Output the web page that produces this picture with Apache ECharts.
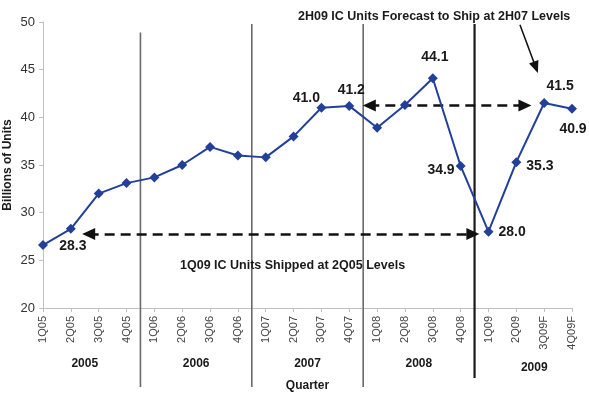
<!DOCTYPE html>
<html>
<head>
<meta charset="utf-8">
<script src="https://cdn.jsdelivr.net/npm/echarts@6/dist/echarts.min.js"></script>
<style>
html,body{margin:0;padding:0;background:#fff;}
#chart{width:589px;height:393px;}
</style>
</head>
<body>
<div id="chart"></div>
<script>
// ---- data ----
const quarters = ['1Q05','2Q05','3Q05','4Q05','1Q06','2Q06','3Q06','4Q06','1Q07','2Q07','3Q07','4Q07','1Q08','2Q08','3Q08','4Q08','1Q09','2Q09','3Q09F','4Q09F'];
const units = [26.6, 28.3, 32.0, 33.1, 33.7, 35.0, 36.9, 36.0, 35.8, 38.0, 41.0, 41.2, 38.9, 41.3, 44.1, 34.9, 28.0, 35.3, 41.5, 40.9];
const years = ['2005','2006','2007','2008','2009'];
const yearCenters = [1.5, 5.5, 9.5, 13.5, 17.5];
const separators = [[3.5, 48.9], [7.5, 49.8], [11.5, 49.8], [15.5, 49.8]];
const yTicks = [20, 25, 30, 35, 40, 45, 50];
const labelled = [1, 10, 11, 14, 15, 16, 17, 18, 19];
const noteTop = '2H09 IC Units Forecast to Ship at 2H07 Levels';
const noteBottom = '1Q09 IC Units Shipped at 2Q05 Levels';
const arrowLow = [[1.64, 27.75], [15.44, 27.75]];
const arrowHigh = [[11.72, 41.25], [17.31, 41.25]];
const arrowNote = [[17.13, 49.7], [17.70, 45.24]];

// ---- styles ----
const FONT = 'Liberation Sans, Arial, sans-serif';
const labelStyle = {
  1: {position: 'bottom', distance: 5, offset: [2, 0]},
  10: {position: 'top', distance: 0, offset: [-15, 2]},
  11: {position: 'top', distance: 4, offset: [2, 0]},
  14: {position: 'top', distance: 9, offset: [2, 0]},
  15: {position: 'left', distance: 1, offset: [0, 4]},
  16: {position: 'right', distance: 5, offset: [0, 0]},
  17: {position: 'right', distance: 5, offset: [0, 4]},
  18: {position: 'top', distance: 5, offset: [16, 0]},
  19: {position: 'bottom', distance: 8, offset: [1, 0]}
};
const sepStyle = [
  {stroke: '#6a6a6a', lineWidth: 1.6, ext: 79},
  {stroke: '#6a6a6a', lineWidth: 1.6, ext: 79},
  {stroke: '#6a6a6a', lineWidth: 1.6, ext: 79},
  {stroke: '#1a1a1a', lineWidth: 2.2, ext: 70}
];
const yearOffset = [[0, 0], [0, 0], [0, 0], [0, 0], [4, 4]];

const seriesData = units.map((v, i) => {
  if (labelled.indexOf(i) < 0) return v;
  const s = labelStyle[i];
  return {
    value: v,
    label: {
      show: true, position: s.position, distance: s.distance, offset: s.offset,
      formatter: v.toFixed(1), fontSize: 14, fontWeight: 'bold', color: '#1a1a1a', fontFamily: FONT
    }
  };
});

const chart = echarts.init(document.getElementById('chart'));
chart.setOption({
  animation: false,
  backgroundColor: '#fff',
  textStyle: {fontFamily: FONT},
  title: [
    {text: noteTop, left: 293, top: 5, textStyle: {fontSize: 12.5, fontWeight: 'bold', color: '#1a1a1a', fontFamily: FONT}},
    {text: noteBottom, left: 175, top: 254, textStyle: {fontSize: 12.5, fontWeight: 'bold', color: '#1a1a1a', fontFamily: FONT}}
  ],
  grid: {left: 43, right: 17, top: 22, bottom: 85, outerBoundsMode: 'none', containLabel: false},
  xAxis: [
    {
      type: 'category', data: quarters, boundaryGap: false,
      name: 'Quarter', nameLocation: 'middle', nameGap: 72, nameMoveOverlap: false,
      nameTextStyle: {fontSize: 12, fontWeight: 'bold', color: '#1a1a1a'},
      axisLine: {lineStyle: {color: '#c0c0c0', width: 1}},
      axisTick: {show: true, length: 4, lineStyle: {color: '#c0c0c0'}},
      axisLabel: {rotate: 90, fontSize: 11, color: '#444', margin: 8, interval: 0}
    },
    {type: 'value', min: 0, max: 19, show: false}
  ],
  yAxis: {
    type: 'value', min: 20, max: 50, interval: 5,
    name: 'Billions of Units', nameLocation: 'middle', nameGap: 29, nameMoveOverlap: false,
    nameTextStyle: {fontSize: 12, fontWeight: 'bold', color: '#1a1a1a'},
    axisLine: {show: true, lineStyle: {color: '#c0c0c0'}},
    axisTick: {show: true, length: 4, lineStyle: {color: '#c0c0c0'}},
    axisLabel: {fontSize: 13, color: '#333', margin: 8},
    splitLine: {show: false}
  },
  series: [
    {
      type: 'custom', xAxisIndex: 1, silent: true, z: 1,
      data: separators,
      renderItem: function (params, api) {
        const st = sepStyle[params.dataIndex];
        const p1 = api.coord([api.value(0), api.value(1)]);
        const p2 = api.coord([api.value(0), 20]);
        return {type: 'line', shape: {x1: p1[0], y1: p1[1], x2: p1[0], y2: p2[1] + st.ext},
          style: {stroke: st.stroke, lineWidth: st.lineWidth}};
      }
    },
    {
      type: 'custom', xAxisIndex: 1, silent: true, z: 1,
      data: yearCenters.map((c) => [c, 20]),
      renderItem: function (params, api) {
        const p = api.coord([api.value(0), 20]);
        const o = yearOffset[params.dataIndex];
        return {type: 'text', x: p[0] + o[0], y: p[1] + 56 + o[1],
          style: {text: years[params.dataIndex], align: 'center', verticalAlign: 'middle',
            font: 'bold 12px ' + FONT, fill: '#1a1a1a'}};
      }
    },
    {
      type: 'line', xAxisIndex: 1, data: [], silent: true,
      markLine: {
        silent: true, animation: false,
        label: {show: false},
        emphasis: {disabled: true},
        data: [
          [{coord: arrowLow[0], symbol: 'triangle'}, {coord: arrowLow[1], symbol: 'triangle'}],
          [{coord: arrowHigh[0], symbol: 'triangle'}, {coord: arrowHigh[1], symbol: 'triangle'}]
        ],
        symbolSize: [12, 13],
        lineStyle: {color: '#111', width: 2.5, type: [10, 6]}
      }
    },
    {
      type: 'line', xAxisIndex: 1, data: [], silent: true,
      markLine: {
        silent: true, animation: false,
        label: {show: false},
        emphasis: {disabled: true},
        data: [
          [{coord: arrowNote[0], symbol: 'none'}, {coord: arrowNote[1], symbol: 'triangle'}]
        ],
        symbolSize: [10, 12],
        lineStyle: {color: '#111', width: 1.5, type: 'solid'}
      }
    },
    {
      type: 'line', xAxisIndex: 0, data: seriesData, z: 5,
      symbol: 'diamond', symbolSize: 10,
      lineStyle: {color: '#22409a', width: 2},
      itemStyle: {color: '#22409a'}
    }
  ]
});
</script>
</body>
</html>
